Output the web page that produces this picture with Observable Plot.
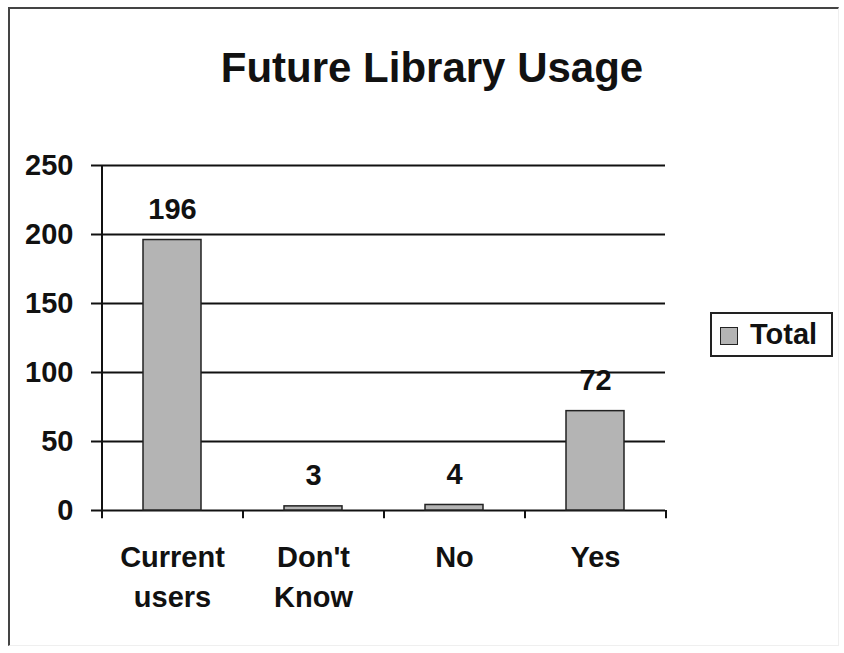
<!DOCTYPE html>
<html>
<head>
<meta charset="utf-8">
<script src="https://cdn.jsdelivr.net/npm/d3@7"></script>
<script src="https://cdn.jsdelivr.net/npm/@observablehq/plot@0.6"></script>
<style>
  body { margin: 0; background: #fff; font-family: "Liberation Sans", Arial, sans-serif; }
  #wrap { position: relative; width: 844px; height: 653px; overflow: hidden; background: #fff; }
  #chart { position: absolute; left: 0; top: 0; }
  #border { position: absolute; left: 8px; top: 7px; width: 828px; height: 636px;
    border-top: 2px solid #444; border-left: 2px solid #444;
    border-right: 1px solid #efefef; border-bottom: 1px solid #efefef; pointer-events: none; }
  #title { position: absolute; left: 0; width: 864px; top: 47px; text-align: center;
    font-weight: bold; font-size: 42px; line-height: 41px; color: #111; white-space: nowrap; }
  #legend { position: absolute; left: 710px; top: 312px; width: 119px; height: 41px;
    border: 2px solid #222; background: #fff; }
  #legend .sw { position: absolute; left: 8px; top: 13px; width: 16px; height: 16px;
    background: #b4b4b4; border: 1.5px solid #222; }
  #legend .lb { position: absolute; left: 38px; top: 6px; font-weight: bold; font-size: 29px;
    line-height: 29px; color: #111; }
</style>
</head>
<body>
<div id="wrap">
  <div id="chart"></div>
  <div id="border"></div>
  <div id="title">Future Library Usage</div>
  <div id="legend"><div class="sw"></div><div class="lb">Total</div></div>
</div>
<script>
const categories = ["Current users", "Don't Know", "No", "Yes"];
const categoryLabels = ["Current\nusers", "Don't\nKnow", "No", "Yes"];
const totals = [196, 3, 4, 72];
const yTicks = [0, 50, 100, 150, 200, 250];
const seriesName = "Total";

const data = categories.map((c, i) => ({ category: c, label: categoryLabels[i], total: totals[i] }));
const labelOf = new Map(categories.map((c, i) => [c, categoryLabels[i]]));

const W = 844, H = 653;
const mL = 101, mR = 179, mT = 165, mB = 143;
const step = (W - mL - mR) / categories.length;

const chart = Plot.plot({
  width: W,
  height: H,
  marginLeft: mL,
  marginRight: mR,
  marginTop: mT,
  marginBottom: mB,
  style: { fontFamily: "'Liberation Sans', Arial, sans-serif", fontSize: "29px", fontWeight: "bold", color: "#111", background: "transparent" },
  x: { domain: categories, paddingInner: 0.59, paddingOuter: 0.295, label: null },
  y: { domain: [0, 250], label: null },
  marks: [
    Plot.ruleY(yTicks, { stroke: "#111", strokeWidth: 2 }),
    Plot.axisY({ ticks: yTicks, tickSize: 10, tickPadding: 18, strokeWidth: 2, stroke: "#111", label: null }),
    Plot.axisX({ tickSize: 0, tickPadding: 28, lineHeight: 1.38, tickFormat: (c) => labelOf.get(c), label: null }),
    Plot.ruleX([categories[0]], { x: (d) => d, y1: 250, y2: -6, dx: -step / 2, stroke: "#111", strokeWidth: 2 }),
    Plot.ruleX(categories.slice(1), { x: (d) => d, y1: 0, y2: -6, dx: -step / 2, stroke: "#111", strokeWidth: 2 }),
    Plot.ruleX([categories[categories.length - 1]], { x: (d) => d, y1: 0, y2: -6, dx: step / 2, stroke: "#111", strokeWidth: 2 }),
    Plot.barY(data, { x: "category", y: "total", fill: "#b4b4b4", stroke: "#222", strokeWidth: 1.5 }),
    Plot.text(data, { x: "category", y: "total", text: (d) => String(d.total), dy: -21, lineAnchor: "bottom", fill: "#111" })
  ]
});
document.getElementById("chart").appendChild(chart);
</script>
</body>
</html>
